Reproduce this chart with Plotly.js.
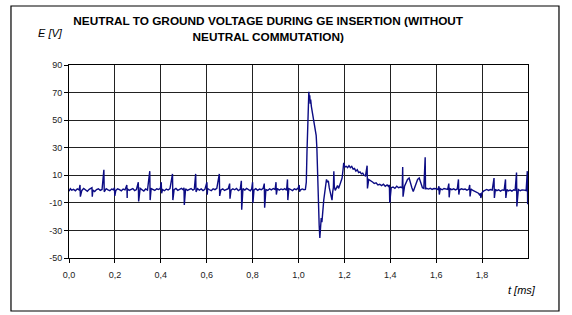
<!DOCTYPE html>
<html>
<head>
<meta charset="utf-8">
<script src="https://cdn.plot.ly/plotly-3.0.1.min.js"></script>
<style>
html,body{margin:0;padding:0;background:#fff;}
#chart{width:572px;height:315px;}
</style>
</head>
<body>
<div id="chart"></div>
<script>
// ---- Data (time in ms, voltage in V) ----
const traceTime = [
  0.000,0.006,0.012,0.020,0.028,0.036,0.044,0.056,0.064,0.072,0.080,0.088,0.096,0.104,0.112,0.120,
  0.128,0.136,0.144,0.162,0.170,0.178,0.186,0.194,0.204,0.212,0.220,0.228,0.236,0.244,0.254,0.262,
  0.270,0.278,0.286,0.294,0.310,0.318,0.326,0.334,0.342,0.358,0.366,0.374,0.382,0.390,0.398,0.408,
  0.416,0.424,0.432,0.440,0.458,0.466,0.474,0.482,0.490,0.498,0.508,0.516,0.524,0.532,0.540,0.546,
  0.560,0.568,0.576,0.584,0.592,0.604,0.612,0.620,0.628,0.636,0.644,0.662,0.670,0.678,0.686,0.694,
  0.706,0.714,0.722,0.730,0.738,0.746,0.758,0.766,0.774,0.782,0.790,0.796,0.806,0.814,0.822,0.830,
  0.838,0.846,0.858,0.866,0.874,0.882,0.890,0.898,0.908,0.916,0.924,0.932,0.940,0.948,0.958,0.966,
  0.974,0.982,0.990,0.998,1.008,1.016,1.024,1.030,
  1.034,1.037,1.040,1.043,1.045,1.047,1.049,1.051,1.053,1.056,1.060,1.064,1.069,1.073,1.077,1.080,
  1.082,1.085,1.087,1.090,1.093,1.096,1.099,1.102,1.106,1.110,1.114,1.118,1.122,1.126,1.130,1.134,
  1.138,1.142,1.146,1.149,1.152,1.154,1.156,1.160,1.165,1.170,1.175,1.180,1.185,1.190,1.194,1.197,
  1.202,1.208,1.214,1.220,1.226,1.232,1.238,1.244,1.250,1.256,1.262,1.268,1.274,1.280,1.286,1.292,
  1.306,1.312,1.318,1.324,1.330,1.338,1.346,1.354,1.362,1.370,1.378,1.386,1.392,1.404,1.412,1.420,
  1.428,1.436,1.444,1.452,1.462,1.470,1.475,1.482,1.488,1.494,1.500,1.506,1.512,1.519,1.526,1.533,
  1.540,1.546,1.558,1.566,1.574,1.582,1.590,1.600,1.608,1.618,1.626,1.634,1.642,1.650,1.660,1.668,
  1.676,1.684,1.692,1.702,1.710,1.718,1.726,1.734,1.742,1.752,1.760,1.768,1.776,1.784,1.790,1.796,
  1.800,1.806,1.812,1.820,1.828,1.836,1.844,1.858,1.864,1.872,1.880,1.888,1.896,1.908,1.914,1.922,
  1.930,1.938,1.944,1.958,1.966,1.974,1.984,1.992,2.000
];
const traceVolts = [
  -1.5,0.3,-0.8,-0.2,-1.2,0.2,-0.6,-1.0,0.4,-0.5,-1.6,-0.2,0.5,-0.8,-1.8,-0.4,
  0.2,-0.9,-0.3,0.3,-0.6,-1.2,0.0,-0.5,-1.0,0.2,-0.4,-1.3,0.0,-0.6,0.3,-0.9,
  -0.2,0.4,-1.1,-0.3,0.5,-0.5,-1.4,0.1,-0.7,0.4,-0.5,-1.0,0.2,-0.3,0.6,-0.4,
  -1.2,0.0,-0.7,0.3,-0.5,0.4,-0.9,-0.2,0.5,-0.6,0.2,-1.0,-0.3,0.4,-0.8,-0.1,
  0.3,-0.7,0.1,-1.1,-0.2,0.4,-0.5,-1.2,0.2,-0.4,0.5,-0.6,0.1,-1.0,-0.3,0.3,
  -0.8,0.2,-0.5,0.4,-1.1,-0.2,0.3,-0.7,0.5,-0.4,-1.2,0.1,-0.6,0.3,-0.9,0.0,
  -0.5,0.6,-0.4,-1.0,0.2,-0.6,0.4,-0.3,0.5,-0.8,0.1,-0.5,0.3,-0.9,0.4,-0.3,
  -1.1,0.2,-0.4,0.6,-0.7,0.1,-0.5,-0.2,
  5,27,50,62,70.5,66,68,62,65,60,56,51,46,42,39,30,
  15,-4,-16,-26,-35.5,-30,-21,-24,-14,-8,-3,3,7,5,6,1,
  -3,-7,-8,-2,1,13,2,-1,1,2.5,0.5,3,4,8,14,19,
  16,16.5,15.5,17,15.5,16.5,14.5,15,13,14,12,12.5,11,11.5,10,9.5,
  7,6.5,5.5,5,4,4.5,3,3.5,2.5,3.5,2,3,2,1,1.5,0.5,
  2,1,1.5,0.8,2,5,7,8,4,1,-1.7,1,3,7,8,4,
  1,0.5,0.5,0,0.6,-0.2,0.4,0.2,-0.3,0.3,-0.5,0.4,0,-0.2,0.3,-0.4,
  0.2,-0.6,0.1,-0.5,0.2,-0.3,0.0,-0.8,-0.2,0.1,-1.0,-1.6,-2.5,-3.0,-4.5,-5,
  -2.5,-1.5,-0.8,-0.3,-1.0,-0.4,-0.8,-0.2,-1.2,-0.5,-1.5,-0.6,-1.0,-0.4,-1.3,-0.7,
  -1.5,-0.5,-0.9,-0.3,-1.2,-0.6,-0.8,-1.1,-0.6
];
// switching spikes: time, upper tip, lower tip
const spikeTime = [0.048,0.100,0.152,0.198,0.252,0.302,0.352,0.402,0.451,0.501,0.552,0.601,0.655,0.700,
  0.751,0.800,0.851,0.902,0.952,1.003,1.299,1.396,1.454,1.552,1.612,1.655,1.697,1.746,1.793,1.852,1.902,
  1.950,1.997];
const spikeHigh = [3,1,14,1,3,5,13,5,11,1,11,5,11,4,6,5,4,5,7,3,17,3,16,23,2,4,7,3,-3,8,7,12,13];
const spikeLow  = [-5.5,-5.5,-2,-5,-6.5,-9,-8,-3,-8,-11.5,-2,-4,-5,-7,-15,-10,-13.5,-4,-8,-2,0.5,-10,-5.5,0,-4,-6,-4,-5.4,-6.5,-6.5,-6.5,-12.6,-11];

const xTickVals = [0,0.2,0.4,0.6,0.8,1.0,1.2,1.4,1.6,1.8];
const xTickText = ['0,0','0,2','0,4','0,6','0,8','1,0','1,2','1,4','1,6','1,8'];
const yTickVals = [-50,-30,-10,10,30,50,70,90];
const yTickText = ['-50','-30','-10','10','30','50','70','90'];

// merge trace and spikes into one time-ordered series
const pts = traceTime.map((t,i)=>[t, traceVolts[i]]);
spikeTime.forEach((t,i)=>{ pts.push([t, spikeHigh[i]]); pts.push([t+0.0015, spikeLow[i]]); });
pts.sort((a,b)=>a[0]-b[0]);

const fontFam = '"Liberation Sans", Arial, sans-serif';
const trace = {
  x: pts.map(p=>p[0]), y: pts.map(p=>p[1]),
  type:'scatter', mode:'lines',
  line:{color:'#0c0c84', width:1.4},
  hoverinfo:'x+y', showlegend:false
};

const layout = {
  width:572, height:315,
  margin:{l:69, r:44, t:65, b:57, pad:0},
  paper_bgcolor:'#fff', plot_bgcolor:'#fff',
  font:{family:fontFam, size:9, color:'#222'},
  title:{
    text:'<b>NEUTRAL TO GROUND VOLTAGE DURING GE INSERTION (WITHOUT<br>NEUTRAL COMMUTATION)</b>',
    font:{family:fontFam, size:11.8, color:'#000'},
    xref:'paper', x:0.434, xanchor:'center',
    yref:'container', y:0.92, yanchor:'top'
  },
  xaxis:{
    range:[0,2.0], tickvals:xTickVals, ticktext:xTickText,
    showgrid:true, gridcolor:'#222', gridwidth:1,
    showline:true, mirror:true, linecolor:'#000', linewidth:1,
    ticks:'outside', ticklen:4, tickcolor:'#000', zeroline:false,
    ticklabelstandoff:4,
    tickfont:{family:fontFam, size:9, color:'#222'}, fixedrange:true
  },
  yaxis:{
    range:[-50,90], tickvals:yTickVals, ticktext:yTickText,
    showgrid:true, gridcolor:'#222', gridwidth:1,
    showline:true, mirror:true, linecolor:'#000', linewidth:1,
    ticks:'outside', ticklen:4, tickcolor:'#000', zeroline:false,
    tickfont:{family:fontFam, size:9, color:'#222'}, fixedrange:true
  },
  annotations:[
    {text:'<i>E [V]</i>', xref:'paper', yref:'paper', x:-0.041, y:1.166,
     xanchor:'center', yanchor:'middle', showarrow:false,
     font:{family:fontFam, size:11, color:'#000'}},
    {text:'<i>t [ms]</i>', xref:'paper', yref:'paper', x:0.987, y:-0.166,
     xanchor:'center', yanchor:'middle', showarrow:false,
     font:{family:fontFam, size:11, color:'#000'}}
  ],
  shapes:[
    {type:'rect', xref:'paper', yref:'paper', x0:-0.1264, x1:1.0675, y0:-0.2746, y1:1.3057,
     line:{color:'#000', width:1.2}, fillcolor:'rgba(0,0,0,0)', layer:'below'}
  ]
};

Plotly.newPlot('chart', [trace], layout, {displayModeBar:false, staticPlot:true});
</script>
</body>
</html>
